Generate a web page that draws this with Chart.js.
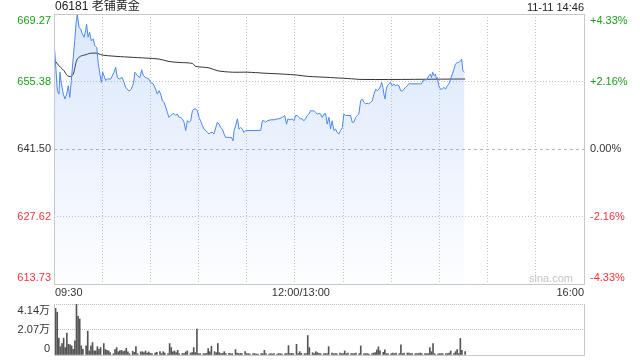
<!DOCTYPE html>
<html>
<head>
<meta charset="utf-8">
<script src="https://cdn.jsdelivr.net/npm/chart.js@4.4.0/dist/chart.umd.min.js"></script>
<style>
  body { margin: 0; background: #fff; }
  #wrap { position: relative; width: 640px; height: 360px; }
  canvas { position: absolute; left: 0; }
  #priceChart { top: 0; }
  #volChart { top: 298px; }
</style>
</head>
<body>
<div id="wrap">
  <canvas id="priceChart" width="640" height="298"></canvas>
  <canvas id="volChart" width="640" height="62"></canvas>
</div>
<script>
// Header texts
const stockTitle = '06181 老铺黄金';
const stamp = '11-11 14:46';

// Axis labels
const prevClose = 641.50;
const priceTicks = [613.73, 627.62, 641.50, 655.38, 669.27];
const pctTicks = ['-4.33%', '-2.16%', '0.00%', '+2.16%', '+4.33%'];
const timeTicks = [0, 150, 330];
const timeText = ['09:30', '12:00/13:00', '16:00'];
const volTicks = [0, 2.07, 4.14];
const volTickText = ['0', '2.07万', '4.14万'];

// Price line (minutes since 09:30, lunch break removed)
const priceTimes = [
  0, 1.0, 2.1, 3.1, 3.7, 4.6, 5.8, 6.8, 7.9, 8.9,
  9.8, 10.8, 12.0, 12.9, 13.7, 14.5, 15.6, 16.6, 17.6, 18.7,
  19.7, 20.3, 21.2, 22.2, 23.2, 24.5, 25.3, 26.6, 27.6, 28.6,
  29.5, 30.3, 31.1, 32.2, 33.2, 35.3, 37.4, 38.4, 39.4, 40.5,
  42.5, 43.6, 44.6, 46.7, 48.1, 49.4, 50.4, 51.9, 53.5, 54.6,
  55.6, 57.1, 59.1, 60.2, 61.8, 63.3, 64.3, 65.4, 66.4, 67.5,
  68.5, 69.6, 70.6, 71.6, 72.7, 73.7, 74.7, 75.8, 76.8, 77.9,
  78.9, 79.9, 81.0, 82.0, 83.0, 84.1, 85.1, 86.2, 87.2, 88.2,
  89.3, 90.3, 91.3, 92.4, 93.4, 94.5, 95.5, 96.5, 97.6, 98.6,
  99.6, 100.7, 101.7, 102.8, 103.8, 104.8, 105.9, 106.9, 109.0, 110.6,
  111.5, 112.1, 113.1, 114.2, 115.2, 116.2, 117.3, 118.3, 119.4, 128.7,
  129.7, 130.8, 131.8, 132.8, 134.9, 137.0, 139.0, 140.0, 142.1, 143.6,
  144.8, 145.6, 146.9, 148.3, 149.4, 150.4, 151.5, 152.5, 153.5, 154.6,
  155.6, 156.6, 157.7, 158.7, 159.8, 160.8, 161.8, 162.9, 163.9, 164.9,
  166.0, 167.0, 168.1, 169.1, 170.1, 171.2, 172.2, 173.2, 174.3, 175.3,
  176.3, 177.4, 178.4, 179.5, 180.5, 181.5, 184.6, 185.7, 186.7, 187.8,
  188.8, 189.8, 190.9, 191.9, 192.9, 194.0, 195.0, 196.0, 197.1, 198.2,
  199.2, 200.3, 201.3, 202.3, 203.4, 204.0, 204.8, 205.4, 206.1, 206.9,
  207.5, 208.5, 209.6, 210.6, 211.6, 212.7, 213.7, 214.8, 215.8, 216.8,
  217.9, 218.9, 219.9, 220.9, 228.8, 229.7, 230.3, 231.3, 232.4, 233.4,
  234.4, 235.0, 235.8, 236.7, 237.5, 238.1, 238.7, 239.6, 240.7, 241.7,
  242.8, 243.8, 244.9, 245.9, 246.9, 248.0, 249.0, 250.0, 251.1, 252.1,
  253.2, 253.8, 254.6, 255.6
];
const priceValues = [
  663.8, 659.0, 653.5, 652.8, 657.3, 654.9, 652.8, 651.8, 652.8, 654.5,
  652.1, 655.6, 660.4, 663.8, 667.2, 669.27, 666.5, 666.2, 665.2, 664.5,
  665.8, 667.2, 664.5, 665.5, 663.8, 664.1, 662.8, 662.4, 659.0, 656.9,
  655.2, 657.3, 656.6, 655.6, 655.9, 655.9, 657.3, 658.3, 656.2, 655.9,
  656.2, 655.2, 654.2, 653.4, 653.8, 654.9, 657.3, 656.6, 656.2, 657.8,
  656.6, 656.2, 655.9, 655.2, 654.9, 653.8, 652.8, 653.5, 652.8, 651.4,
  651.1, 650.1, 649.0, 648.0, 648.4, 648.7, 648.8, 648.4, 648.7, 648.0,
  648.0, 647.7, 647.0, 645.3, 647.3, 647.0, 647.3, 649.4, 649.7, 649.7,
  649.4, 648.0, 647.3, 646.3, 645.6, 645.3, 644.9, 644.6, 644.9, 644.9,
  644.6, 645.9, 647.0, 646.6, 645.9, 645.6, 644.6, 643.9, 643.9, 643.8,
  643.2, 645.3, 646.3, 647.7, 645.6, 645.9, 645.6, 644.9, 645.3, 645.3,
  647.3, 647.3, 647.0, 647.3, 647.5, 647.5, 647.7, 647.7, 648.0, 648.4,
  646.6, 647.7, 647.5, 647.7, 647.3, 648.4, 648.4, 648.0, 647.7, 647.7,
  647.3, 647.7, 648.4, 648.7, 649.4, 649.3, 649.4, 649.0, 648.7, 648.8,
  648.7, 648.0, 648.7, 648.8, 646.6, 648.0, 645.6, 647.3, 645.3, 645.6,
  644.9, 644.6, 645.3, 645.9, 648.7, 648.4, 648.4, 647.0, 647.0, 648.0,
  648.4, 648.7, 651.4, 651.8, 651.1, 650.8, 650.9, 650.8, 651.1, 651.4,
  652.8, 653.8, 653.5, 653.8, 654.5, 655.2, 654.2, 652.8, 651.8, 653.8,
  654.5, 654.9, 655.2, 654.5, 654.9, 654.5, 654.7, 654.5, 653.5, 653.4,
  653.8, 654.2, 654.5, 654.9, 654.9, 655.6, 655.7, 655.7, 655.9, 656.6,
  656.9, 656.2, 657.3, 656.6, 656.9, 655.9, 656.2, 654.5, 653.8, 653.8,
  654.2, 653.8, 654.5, 654.9, 655.9, 656.9, 657.9, 659.0, 659.3, 659.3,
  659.7, 660.0, 657.6, 657.3
];

// Average price line
const avgTimes = [0, 2.1, 4.1, 6.2, 8.3, 10.4, 12.0, 13.5, 14.5, 16.6, 18.7, 20.7, 22.8, 27.0, 29.1, 33.2, 41.5, 51.9,
  65.4, 71.6, 77.9, 86.2, 88.2, 96.5, 101.7, 111.0, 120.4, 130.8, 143.1, 151.5, 157.7, 172.2, 182.6, 193.0, 256];
const avgValues = [660.0, 659.0, 658.3, 657.6, 656.6, 656.4, 656.9, 659.0, 660.0, 660.6, 660.8, 661.0, 661.2, 661.2, 660.9, 660.7, 660.5, 660.3,
  660.0, 659.5, 659.3, 659.1, 658.5, 658.2, 657.6, 657.3, 657.3, 657.1, 656.9, 656.7, 656.45, 656.2, 656.0, 655.8, 655.9];

// Volume (万)
const volTimes = [
  1, 2, 3, 4, 5, 6, 7, 8, 9, 10,
  11, 12, 13, 14, 15, 16, 17, 18, 20, 21,
  22, 23, 24, 25, 26, 27, 28, 29, 31, 32,
  33, 34, 35, 37, 38, 39, 40, 41, 42, 43,
  44, 45, 46, 47, 49, 50, 51, 52, 54, 55,
  56, 57, 58, 59, 60, 61, 63, 64, 66, 67,
  68, 69, 71, 72, 73, 74, 75, 76, 77, 78,
  80, 81, 82, 83, 85, 86, 87, 88, 89, 90,
  91, 93, 94, 95, 96, 97, 98, 100, 101, 102,
  103, 104, 105, 106, 107, 109, 110, 111, 113, 114,
  115, 116, 117, 119, 120, 121, 122, 124, 125, 126,
  127, 129, 130,
  131, 132, 134, 135, 136, 137, 139, 140, 141, 142,
  144, 145, 146, 147, 148, 149, 151, 152, 153, 154,
  156, 157, 158, 159, 161, 162, 163, 164, 165, 166,
  168, 169, 170, 171, 173, 174, 175, 176, 178, 179,
  180, 181, 182, 183, 185, 186, 187, 188, 190, 191,
  193, 194, 195, 196, 198, 199, 200, 201, 202, 203,
  205, 206, 207, 208, 210, 211, 212, 213, 215, 216,
  217, 218, 220, 221, 222, 223, 225, 226, 227, 228,
  229, 231, 232, 233, 234, 235, 236, 237, 239, 240,
  241, 242, 244, 245, 246, 247, 249, 250, 251, 252,
  253, 254, 256
];
const volValues = [
  3.79, 3.47, 1.37, 0.68, 0.93, 1.37, 0.60, 1.77, 0.87, 0.82,
  0.74, 0.46, 1.15, 4.14, 3.14, 2.92, 0.74, 0.46, 0.74, 1.94,
  0.33, 0.74, 1.01, 0.33, 0.33, 0.68, 0.46, 0.60, 0.93, 0.44,
  0.38, 0.33, 0.19, 0.11, 0.44, 0.60, 0.27, 0.33, 0.38, 0.27,
  0.33, 0.55, 0.25, 0.11, 0.30, 0.22, 0.68, 0.11, 0.25, 0.27,
  0.19, 0.33, 0.16, 0.25, 0.14, 0.11, 0.16, 0.22, 0.27, 0.11,
  0.27, 0.16, 0.11, 0.93, 0.60, 0.25, 0.33, 0.19, 0.38, 0.11,
  0.14, 0.11, 0.25, 0.33, 0.16, 0.19, 0.60, 0.19, 2.10, 0.11,
  0.11, 0.11, 0.11, 0.14, 0.52, 0.27, 0.71, 0.27, 0.19, 0.93,
  0.19, 0.11, 0.14, 0.27, 0.11, 0.14, 0.11, 0.11, 0.44, 0.16,
  0.11, 0.14, 0.11, 0.27, 0.11, 0.11, 0.08, 0.11, 0.11, 0.08,
  0.08, 0.11, 0.11,
  0.38, 0.11, 0.08, 0.11, 0.08, 0.11, 0.08, 0.11, 0.11, 0.08,
  0.11, 0.11, 0.76, 0.11, 0.14, 0.11, 0.87, 0.11, 0.27, 0.14,
  0.11, 0.11, 1.58, 0.60, 0.19, 0.11, 0.27, 0.19, 0.14, 0.11,
  0.11, 0.11, 0.11, 0.68, 0.16, 0.11, 0.11, 0.11, 0.16, 0.11,
  0.11, 0.33, 0.11, 0.16, 0.11, 0.11, 0.11, 0.16, 0.11, 0.74,
  0.11, 0.11, 0.11, 0.08, 0.11, 0.16, 0.19, 0.41, 0.66, 0.33,
  0.22, 0.41, 0.11, 0.11, 0.11, 0.16, 0.11, 0.16, 0.11, 0.82,
  0.11, 0.16, 0.16, 0.16, 0.11, 0.11, 0.11, 0.11, 0.11, 0.16,
  0.11, 0.11, 0.11, 0.11, 0.60, 0.27, 0.93, 0.11, 0.08, 0.11,
  0.11, 0.11, 0.11, 0.11, 0.16, 0.33, 0.11, 0.27, 0.44, 0.11,
  1.34, 0.38, 0.27
];

const FONT = '"Liberation Sans", "Noto Sans CJK SC", Arial, sans-serif';
const GRID = '#c4c4c4';
const BORDER = '#c8c8c8';

function toPoints(xs, ys) {
  return xs.map((x, i) => ({ x: x, y: ys[i] }));
}

function signColor(v) {
  if (v > prevClose) return '#1ba01b';
  if (v < prevClose) return '#f0353a';
  return '#333';
}

// Border, prev-close line and all the text around the price panel
const priceDecor = {
  id: 'priceDecor',
  beforeDatasetsDraw(chart) {
    const { ctx, chartArea: a, scales: { y } } = chart;
    const py = Math.round(y.getPixelForValue(prevClose)) + 0.5;
    ctx.save();
    ctx.strokeStyle = '#b5b5b5';
    ctx.lineWidth = 1;
    ctx.setLineDash([3, 3]);
    ctx.beginPath();
    ctx.moveTo(a.left, py);
    ctx.lineTo(a.right, py);
    ctx.stroke();
    ctx.restore();
  },
  afterDraw(chart) {
    const { ctx, chartArea: a, scales: { x, y } } = chart;
    ctx.save();
    ctx.strokeStyle = BORDER;
    ctx.lineWidth = 1;
    ctx.strokeRect(a.left + 0.5, a.top + 0.5, a.right - a.left, a.bottom - a.top);

    ctx.font = '11px ' + FONT;
    ctx.textBaseline = 'middle';
    priceTicks.forEach((v, i) => {
      const py = Math.min(Math.max(y.getPixelForValue(v), a.top + 6.5), a.bottom - 6);
      ctx.fillStyle = signColor(v);
      ctx.textAlign = 'right';
      ctx.fillText(v.toFixed(2), a.left - 3, py);
      ctx.textAlign = 'left';
      ctx.fillText(pctTicks[i], a.right + 6, py);
    });

    ctx.fillStyle = '#333';
    timeTicks.forEach((m, i) => {
      const px = x.getPixelForValue(m);
      if (i === 0) { ctx.textAlign = 'left'; ctx.fillText(timeText[i], px + 1, a.bottom + 9); }
      else if (i === timeTicks.length - 1) { ctx.textAlign = 'right'; ctx.fillText(timeText[i], px, a.bottom + 9); }
      else { ctx.textAlign = 'center'; ctx.fillText(timeText[i], px + 6, a.bottom + 9); }
    });

    ctx.fillStyle = '#c4c4c4';
    ctx.textAlign = 'right';
    ctx.fillText('sina.com', a.right - 11, a.bottom - 5);

    ctx.fillStyle = '#222';
    ctx.font = '12px ' + FONT;
    ctx.textAlign = 'left';
    ctx.fillText(stockTitle, a.left + 1, 7);
    ctx.font = '11px ' + FONT;
    ctx.textAlign = 'right';
    ctx.fillText(stamp, a.right, 8);
    ctx.restore();
  }
};

const volDecor = {
  id: 'volDecor',
  afterDraw(chart) {
    const { ctx, chartArea: a, scales: { y } } = chart;
    ctx.save();
    ctx.strokeStyle = BORDER;
    ctx.lineWidth = 1;
    ctx.beginPath();
    ctx.moveTo(a.left + 0.5, a.top);
    ctx.lineTo(a.left + 0.5, a.bottom + 0.5);
    ctx.lineTo(a.right + 0.5, a.bottom + 0.5);
    ctx.lineTo(a.right + 0.5, a.top);
    ctx.stroke();

    ctx.font = '11px ' + FONT;
    ctx.textBaseline = 'middle';
    ctx.textAlign = 'right';
    ctx.fillStyle = '#333';
    volTicks.forEach((v, i) => {
      const py = Math.min(Math.max(y.getPixelForValue(v), a.top + 6.5), a.bottom - 6);
      ctx.fillText(volTickText[i], a.left - 4, py);
    });
    ctx.restore();
  }
};

function initCharts() {
  const priceCtx = document.getElementById('priceChart').getContext('2d');
  const volCtx = document.getElementById('volChart').getContext('2d');

  new Chart(priceCtx, {
    type: 'line',
    data: {
      datasets: [
        {
          label: 'Price',
          data: toPoints(priceTimes, priceValues),
          borderColor: '#4a87ee',
          borderWidth: 1,
          pointRadius: 0,
          tension: 0,
          fill: 'start',
          backgroundColor: function(c) {
            const a = c.chart.chartArea;
            if (!a) return 'transparent';
            const g = c.chart.ctx.createLinearGradient(0, a.top, 0, a.bottom);
            g.addColorStop(0, 'rgba(74, 135, 238, 0.2)');
            g.addColorStop(1, 'rgba(74, 135, 238, 0.01)');
            return g;
          }
        },
        {
          label: 'Average',
          data: toPoints(avgTimes, avgValues),
          borderColor: '#333',
          borderWidth: 1,
          pointRadius: 0,
          tension: 0.3,
          fill: false
        }
      ]
    },
    options: {
      responsive: false,
      animation: false,
      devicePixelRatio: 1,
      events: [],
      layout: { autoPadding: false, padding: { left: 0, right: 56, top: 14, bottom: 0 } },
      plugins: { legend: { display: false }, tooltip: { enabled: false } },
      scales: {
        x: {
          type: 'linear',
          min: 0,
          max: 330,
          ticks: { display: false, stepSize: 30 },
          grid: { color: GRID, drawTicks: false },
          border: { display: false, dash: [1, 2] },
          afterFit: function(s) { s.height = 14; }
        },
        y: {
          min: priceTicks[0],
          max: priceTicks[priceTicks.length - 1],
          afterBuildTicks: function(s) { s.ticks = priceTicks.map(v => ({ value: v })); },
          ticks: { display: false },
          grid: {
            drawTicks: false,
            color: function(c) { return c.tick && c.tick.value === prevClose ? 'rgba(0,0,0,0)' : GRID; }
          },
          border: { display: false, dash: [1, 2] },
          afterFit: function(s) { s.width = 54; }
        }
      }
    },
    plugins: [priceDecor]
  });

  new Chart(volCtx, {
    type: 'bar',
    data: {
      datasets: [{
        label: 'Volume',
        data: toPoints(volTimes, volValues),
        backgroundColor: '#555',
        borderWidth: 0,
        barThickness: 1
      }]
    },
    options: {
      responsive: false,
      animation: false,
      devicePixelRatio: 1,
      events: [],
      layout: { autoPadding: false, padding: { left: 0, right: 56, top: 6, bottom: 0 } },
      plugins: { legend: { display: false }, tooltip: { enabled: false } },
      scales: {
        x: {
          type: 'linear',
          min: 0,
          max: 330,
          offset: false,
          ticks: { display: false },
          grid: { display: false, offset: false },
          border: { display: false },
          afterFit: function(s) { s.height = 5; }
        },
        y: {
          min: 0,
          max: volTicks[volTicks.length - 1],
          afterBuildTicks: function(s) { s.ticks = volTicks.map(v => ({ value: v })); },
          ticks: { display: false },
          grid: {
            drawTicks: false,
            color: function(c) { return c.tick && c.tick.value === 0 ? 'rgba(0,0,0,0)' : '#bdbdbd'; }
          },
          border: { display: false, dash: [1, 1] },
          afterFit: function(s) { s.width = 54; }
        }
      }
    },
    plugins: [volDecor]
  });
}

initCharts();
</script>
</body>
</html>
